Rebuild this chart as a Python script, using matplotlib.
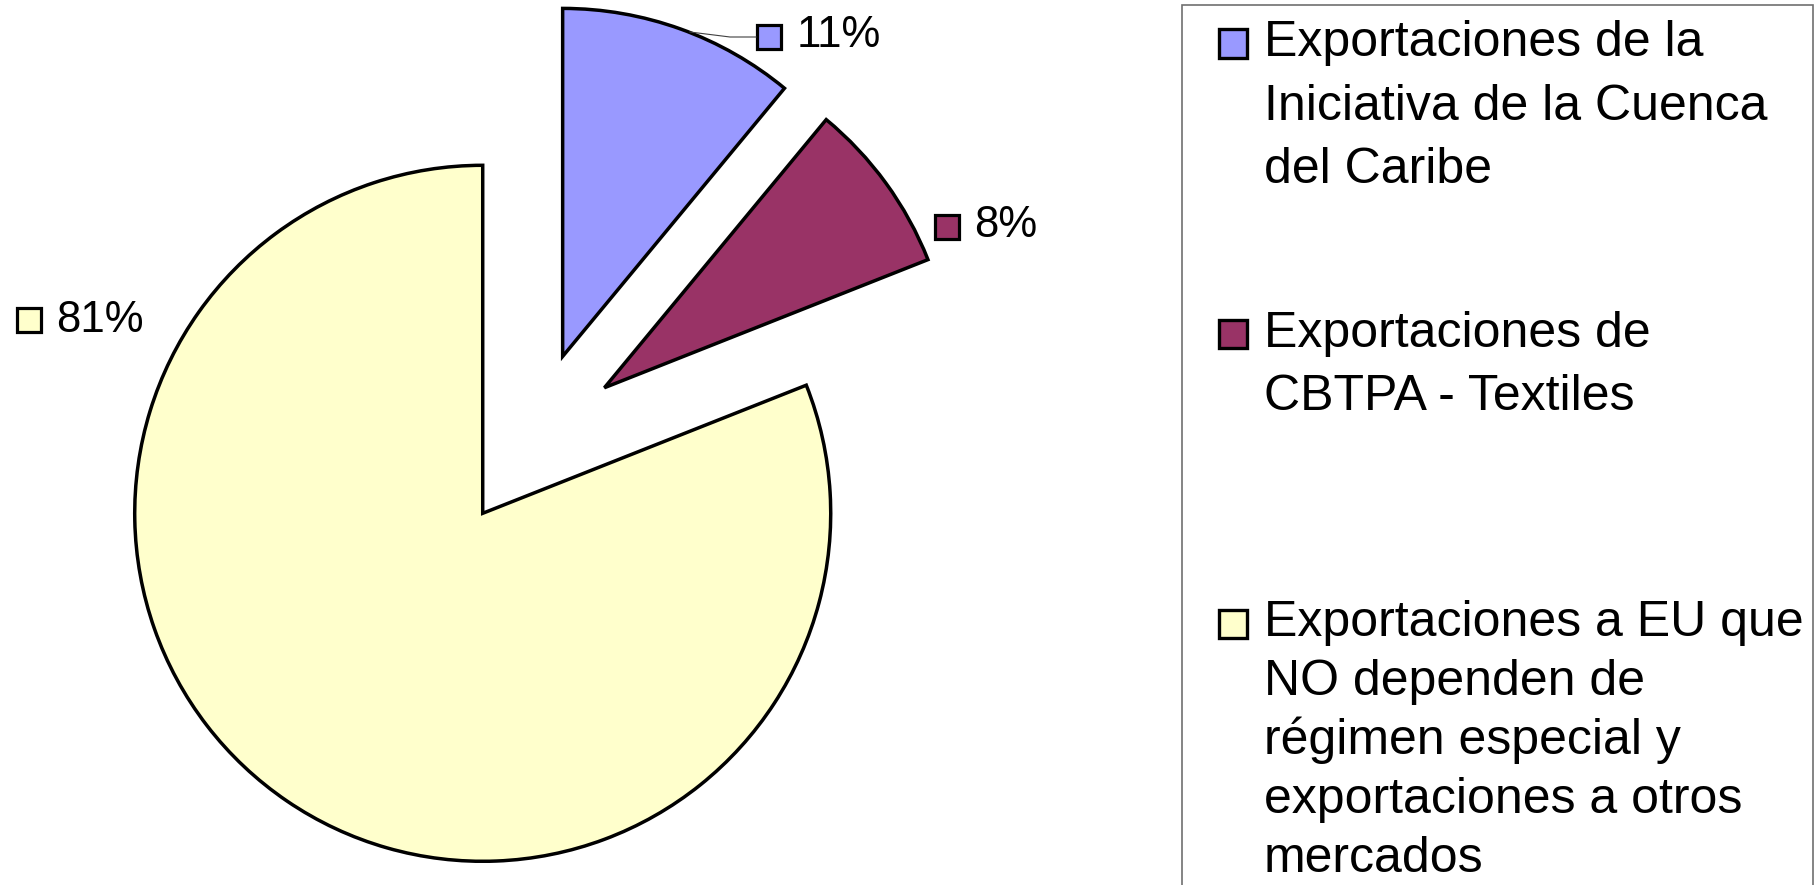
import matplotlib
matplotlib.use("Agg")
import matplotlib.pyplot as plt
from matplotlib.patches import Rectangle
from matplotlib.lines import Line2D

plt.rcParams['font.family'] = ['Liberation Sans', 'DejaVu Sans']

# data
labels = [
    "Exportaciones de la\nIniciativa de la Cuenca\ndel Caribe",
    "Exportaciones de\nCBTPA - Textiles",
    "Exportaciones a EU que\nNO dependen de\nrégimen especial y\nexportaciones a otros\nmercados",
]
shares = [11, 8, 81]
pct_text = ["11%", "8%", "81%"]
colors = ["#9999FF", "#993366", "#FFFFCC"]

W, H = 1815, 885
fig = plt.figure(figsize=(W / 100, H / 100), dpi=100)

def fx(x):
    return x / W

def fy(y):
    return 1 - y / H

# pie centre and radius in pixels (figure from top-left)
cx, cy, r = 532.6, 439.9, 348.0
ax = fig.add_axes([0, 0, 1, 1])
ax.pie(shares, colors=colors, startangle=90, counterclock=False,
       explode=[0.255] * len(shares), radius=1,
       wedgeprops=dict(edgecolor="black", linewidth=2.5))
ax.set_xlim(-cx / r, (W - cx) / r)
ax.set_ylim(-(H - cy) / r, cy / r)
ax.set_aspect('auto')
ax.axis('off')

# data labels: square + percentage (pixel positions of label anchors)
lab_sq = [(769.5, 37.3), (947.3, 227.3), (29.3, 319.7)]
lab_tx = [(797, 46.7), (974, 237.3), (56, 331.7)]
sq = 24
for (sx, sy), (tx, ty), c, t in zip(lab_sq, lab_tx, colors, pct_text):
    fig.patches.append(Rectangle((fx(sx - sq / 2), fy(sy + sq / 2)), sq / W, sq / H,
                                 transform=fig.transFigure, facecolor=c,
                                 edgecolor="black", linewidth=2.3))
    fig.text(fx(tx), fy(ty), t, fontsize=31.5, va="baseline", ha="left")

# leader line for the 11% label
fig.lines.append(Line2D([fx(690), fx(730), fx(756)], [fy(32), fy(37), fy(37)],
                        transform=fig.transFigure, color="#404040", linewidth=0.8))

# legend frame (runs off the bottom of the canvas)
fig.patches.append(Rectangle((fx(1182.5), fy(900)), (1813 - 1182.5) / W, (900 - 4.5) / H,
                             transform=fig.transFigure, fill=False,
                             edgecolor="#707070", linewidth=1.2))

# legend entries
first_base = [56, 346.7, 636]
pitches = [63.5, 63.5, 59]
lsq = 28
for lab, c, b, p in zip(labels, colors, first_base, pitches):
    mcy = b - 12.5
    fig.patches.append(Rectangle((fx(1232.5 - lsq / 2), fy(mcy + lsq / 2)), lsq / W, lsq / H,
                                 transform=fig.transFigure, facecolor=c,
                                 edgecolor="black", linewidth=2.4))
    for i, line in enumerate(lab.split("\n")):
        fig.text(fx(1264), fy(b + i * p), line, fontsize=36,
                 va="baseline", ha="left")

fig.savefig("out.png", dpi=100)
